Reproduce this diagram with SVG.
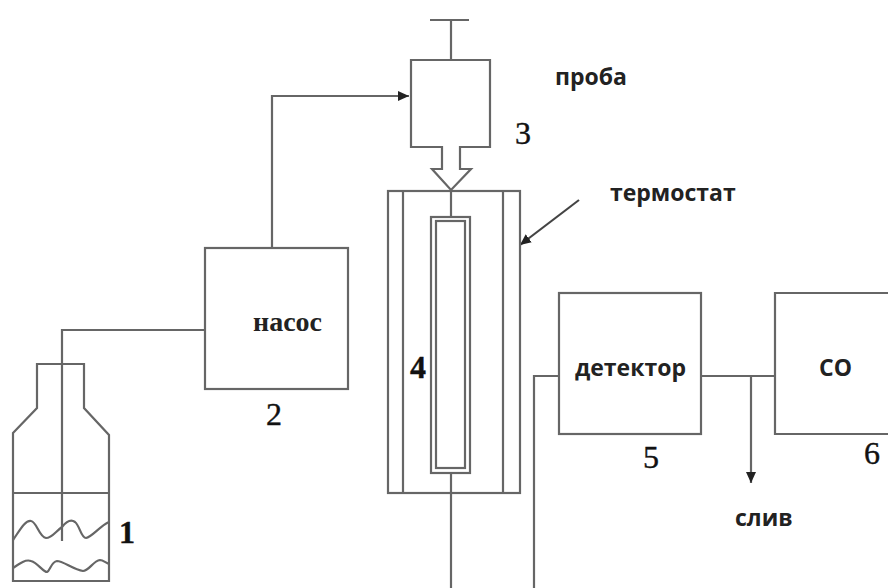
<svg xmlns="http://www.w3.org/2000/svg" width="888" height="588" viewBox="0 0 888 588">
<defs>
<marker id="ah" markerUnits="userSpaceOnUse" markerWidth="12" markerHeight="12" refX="11" refY="6" orient="auto"><path d="M0,1 L11,6 L0,11 Z" fill="#222"/></marker>
</defs>
<style>
.l{fill:none;stroke:#666;stroke-width:2.2}
.n{font-family:"Liberation Serif",serif;font-size:32px;fill:#111;stroke:#111;stroke-width:.4}
.s{font-family:"Open Sans","Noto Sans",sans-serif;font-size:23px;font-weight:700;fill:#222}
</style>
<rect width="888" height="588" fill="#fff"/>
<g id="connectors">
<path class="l" d="M205,330 H62 V541"/>
<path class="l" marker-end="url(#ah)" d="M272,247 V96 H409"/>
<path class="l" d="M451,19 V60"/>
<path class="l" d="M430,20 H469"/>
<path class="l" d="M451,191 V217"/>
<path class="l" d="M451,473 V588"/>
<path class="l" d="M559,376 H534 V588"/>
<path class="l" d="M701,376 H775"/>
<path class="l" marker-end="url(#ah)" d="M751,376 V483"/>
<path class="l" marker-end="url(#ah)" d="M579,200 L520,245" style="stroke:#444"/>
</g>
<g id="node-1">
<path class="l" d="M13,433 L37,408 V364 H84 V408 L109,435 V581 H13 Z"/>
<path class="l" d="M13,493 H109"/>
<path class="l" d="M13,540 C20,530 25,520 31,521 C37,522 39,537 46,538 C52,538 56,531 62,527 C66,522 71,519 75,522 C80,526 81,538 86,538 C92,537 100,526 109,522"/>
<path class="l" d="M13,568 C20,563 26,559 31,561 C38,563 43,572 47,572 C50,571 51,562 57,561 C63,561 74,570 83,571 C89,571 93,561 100,560 C103,560 106,563 109,564"/>
<text class="n" x="119" y="543" style="font-weight:bold">1</text>
</g>
<g id="node-2">
<rect class="l" x="205" y="248" width="143" height="141"/>
<text x="253" y="331" style="font-family:'Liberation Serif',serif;font-size:28px;font-weight:bold;fill:#222">насос</text>
<text class="n" x="266" y="425">2</text>
</g>
<g id="node-3">
<path class="l" d="M411,60 H490 V147 H460 V169 H471 L451,190 L432,169 H442 V147 H411 Z"/>
<text class="n" x="515" y="144">3</text>
</g>
<g id="node-4">
<rect class="l" x="388" y="191" width="132" height="302"/>
<path class="l" d="M403,191 V493 M503,191 V493"/>
<rect class="l" x="431" y="217" width="39" height="256"/>
<rect class="l" x="436" y="221" width="29" height="247"/>
<text class="n" x="410" y="378" style="font-weight:bold">4</text>
</g>
<g id="node-5">
<rect class="l" x="559" y="293" width="142" height="141"/>
<text class="s" x="575" y="376">детектор</text>
<text class="n" x="643" y="468">5</text>
</g>
<g id="node-6">
<path class="l" d="M888,293 H775 V434 H888"/>
<text class="s" x="819" y="376">СО</text>
<text class="n" x="864" y="464">6</text>
</g>
<g id="labels">
<text class="s" x="555" y="85">проба</text>
<text class="s" x="610" y="201">термостат</text>
<text class="s" x="735" y="526">слив</text>
</g>
</svg>
